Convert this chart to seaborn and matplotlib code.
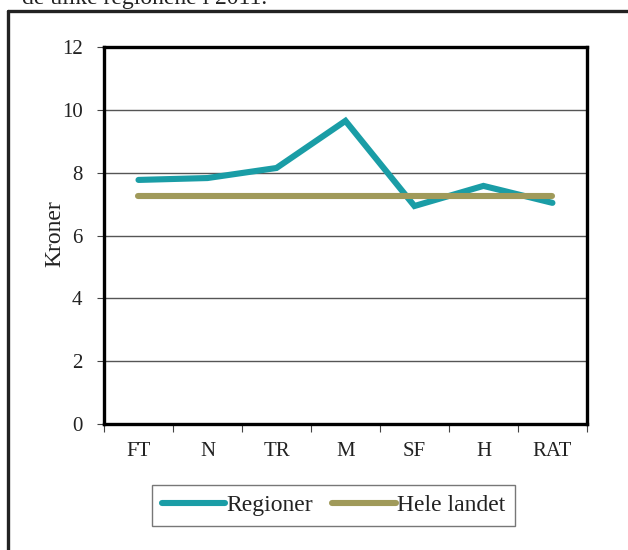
import matplotlib
matplotlib.use("Agg")
import matplotlib.pyplot as plt
from matplotlib.lines import Line2D
import seaborn as sns
import pandas as pd

categories = ["FT", "N", "TR", "M", "SF", "H", "RAT"]
regioner = [7.77, 7.83, 8.15, 9.65, 6.94, 7.58, 7.04]
hele_landet = [7.26, 7.26, 7.26, 7.26, 7.26, 7.26, 7.26]

teal = "#1A9DA6"
olive = "#A09A5A"

sns.set_theme(style="white")
plt.rcParams["font.family"] = ["Liberation Serif", "DejaVu Serif"]

df = pd.DataFrame({"kat": categories, "Regioner": regioner, "Hele landet": hele_landet})

fig = plt.figure(figsize=(6.28, 5.5), dpi=100)
ax = fig.add_axes([0.1656, 0.229, 0.769, 0.6855])

sns.lineplot(data=df, x="kat", y="Regioner", color=teal, lw=4.4, ax=ax,
             label="Regioner", solid_capstyle="round", solid_joinstyle="miter")
sns.lineplot(data=df, x="kat", y="Hele landet", color=olive, lw=4.4, ax=ax,
             label="Hele landet", solid_capstyle="round")

ax.set_xlim(-0.5, 6.5)
ax.set_ylim(0, 12)
ax.set_yticks(range(0, 13, 2))
ax.yaxis.grid(True, color="#555555", lw=1.0)
ax.set_axisbelow(True)
for s in ax.spines.values():
    s.set_color("black")
    s.set_linewidth(2.4)

ax.set_xticks(range(7))
ax.set_xticklabels(categories)
ax.set_xticks([i - 0.5 for i in range(8)], minor=True)
ax.tick_params(axis="x", which="major", length=0, pad=13, labelsize=15, colors="#222222")
ax.tick_params(axis="x", which="minor", length=6, width=0.8, color="#444444", direction="out", bottom=True)
ax.tick_params(axis="y", length=5, width=0.8, color="#444444", direction="out", left=True, pad=10.5,
               labelsize=15, labelcolor="#222222")
ax.set_xlabel("")
ax.set_ylabel("Kroner", fontsize=17, color="#222222")
ax.yaxis.set_label_coords(-0.08, 0.505)

leg = ax.legend(loc="upper center", bbox_to_anchor=(0.475, -0.13), ncol=2, fontsize=17,
                frameon=True, fancybox=False, edgecolor="#555555", handlelength=2.7,
                handletextpad=0.05, columnspacing=0.8, borderpad=0.42)
leg.get_frame().set_linewidth(1.0)
for t in leg.get_texts():
    t.set_color("#222222")

fig.text(0.035, 1.003, "de ulike regionene i 2011.", fontsize=17, va="center", ha="left", color="#222222")
fig.add_artist(Line2D([0.0135, 1.0], [0.98, 0.98], transform=fig.transFigure, color="#222222", lw=2.4))
fig.add_artist(Line2D([0.0135, 0.0135], [0.0, 0.98], transform=fig.transFigure, color="#222222", lw=2.4))

fig.savefig("out.png", dpi=100)
